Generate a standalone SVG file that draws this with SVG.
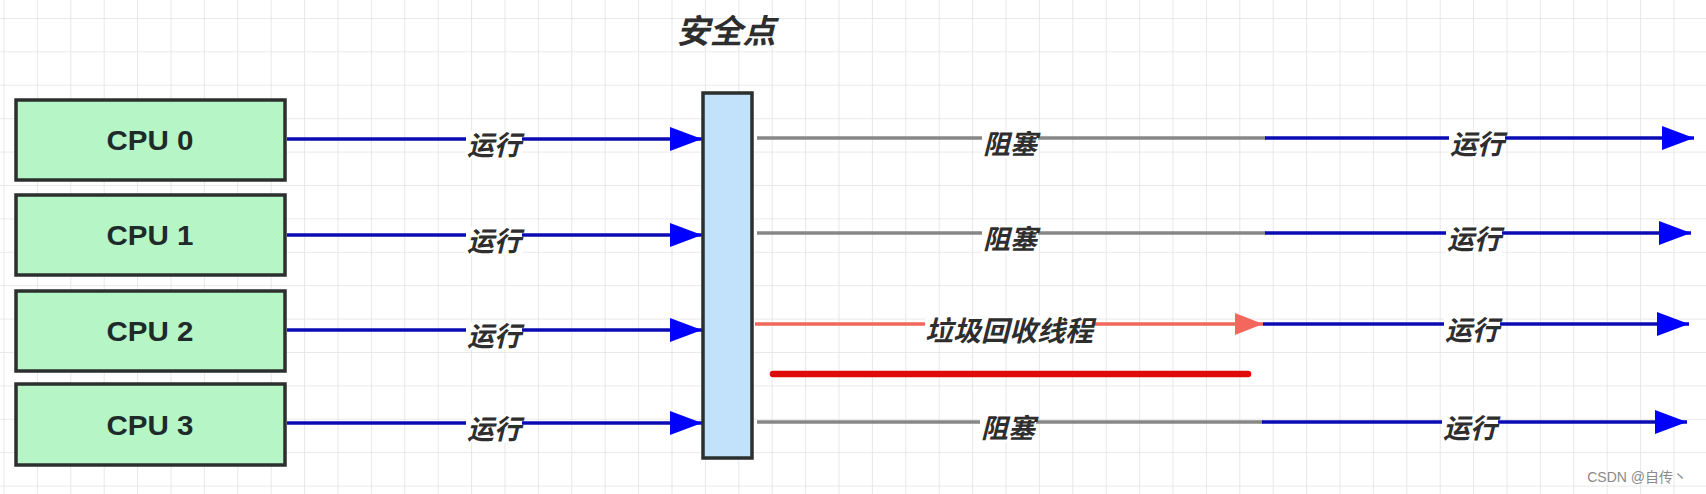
<svg xmlns="http://www.w3.org/2000/svg" width="1706" height="494" viewBox="0 0 1706 494">
<style>
.cpu{fill:#b6f5c6;stroke:#2b2f2e;stroke-width:3.5}
.cput{font-family:"Liberation Sans",Arial,sans-serif;font-weight:bold;font-size:28px;fill:#1e2b2a;text-anchor:middle}
.lbl{font-family:"Noto Sans CJK SC","Noto Sans",sans-serif;font-weight:bold;font-style:italic;font-size:27px;fill:#2e2e2e;text-anchor:middle}
.lbg{fill:#ffffff}
.blue{stroke:#0b0bb4;stroke-width:3.5;fill:none}
.gray{stroke:#878787;stroke-width:3.5;fill:none}
.salmon{stroke:#f3675b;stroke-width:3.5;fill:none}
</style>
<defs>
<pattern id="grid" x="3.5" y="18" width="33.4" height="33.4" patternUnits="userSpaceOnUse">
<path d="M0 0 H33.4 M0 0 V33.4" stroke="#e2e2e2" stroke-width="1.6" fill="none"/>
</pattern>
<marker id="ab" markerUnits="userSpaceOnUse" markerWidth="34" markerHeight="26" refX="32" refY="12" orient="auto" viewBox="0 0 34 26">
<path d="M0 0 L32 12 L0 24 Z" fill="#0000ff"/>
</marker>
<marker id="ar" markerUnits="userSpaceOnUse" markerWidth="30" markerHeight="24" refX="28" refY="11" orient="auto" viewBox="0 0 30 24">
<path d="M0 0 L28 11 L0 22 Z" fill="#f4675c"/>
</marker>
</defs>
<rect width="1706" height="494" fill="#ffffff"/>
<rect width="1706" height="494" fill="url(#grid)"/>

<g id="connectors">
<line class="blue" x1="287" y1="139" x2="702" y2="139" marker-end="url(#ab)"/>
<line class="blue" x1="287" y1="235" x2="702" y2="235" marker-end="url(#ab)"/>
<line class="blue" x1="287" y1="330" x2="702" y2="330" marker-end="url(#ab)"/>
<line class="blue" x1="287" y1="423" x2="702" y2="423" marker-end="url(#ab)"/>

<line class="gray" x1="757" y1="138" x2="1266" y2="138"/>
<line class="gray" x1="757" y1="233" x2="1266" y2="233"/>
<line class="gray" x1="757" y1="422" x2="1263" y2="422"/>
<line class="salmon" x1="755" y1="324" x2="1263" y2="324" marker-end="url(#ar)"/>

<line class="blue" x1="1265" y1="138" x2="1694" y2="138" marker-end="url(#ab)"/>
<line class="blue" x1="1265" y1="233" x2="1691" y2="233" marker-end="url(#ab)"/>
<line class="blue" x1="1263" y1="324" x2="1689" y2="324" marker-end="url(#ab)"/>
<line class="blue" x1="1262" y1="422" x2="1687" y2="422" marker-end="url(#ab)"/>

<line x1="773" y1="374" x2="1248" y2="374" stroke="#e00a0a" stroke-width="6.5" stroke-linecap="round"/>

<g id="labels">
<rect class="lbg" x="466" y="131" width="56" height="28"/><text class="lbl" x="494" y="155">运行</text>
<rect class="lbg" x="466" y="227" width="56" height="28"/><text class="lbl" x="494" y="251">运行</text>
<rect class="lbg" x="466" y="322" width="56" height="28"/><text class="lbl" x="494" y="346">运行</text>
<rect class="lbg" x="466" y="415" width="56" height="28"/><text class="lbl" x="494" y="439">运行</text>

<rect class="lbg" x="982" y="130" width="56" height="28"/><text class="lbl" x="1010" y="154">阻塞</text>
<rect class="lbg" x="982" y="225" width="56" height="28"/><text class="lbl" x="1010" y="249">阻塞</text>
<rect class="lbg" x="980" y="414" width="56" height="28"/><text class="lbl" x="1008" y="438">阻塞</text>
<rect class="lbg" x="925" y="316" width="168" height="28"/><text class="lbl" x="1009" y="341" style="font-size:28px">垃圾回收线程</text>

<rect class="lbg" x="1449" y="130" width="56" height="28"/><text class="lbl" x="1477" y="154">运行</text>
<rect class="lbg" x="1446" y="225" width="56" height="28"/><text class="lbl" x="1474" y="249">运行</text>
<rect class="lbg" x="1444" y="316" width="56" height="28"/><text class="lbl" x="1472" y="340">运行</text>
<rect class="lbg" x="1442" y="414" width="56" height="28"/><text class="lbl" x="1470" y="438">运行</text>
</g>
</g>

<g id="cpu0"><rect class="cpu" x="16" y="100" width="269" height="80"/><text class="cput" x="150" y="150" textLength="87" lengthAdjust="spacingAndGlyphs">CPU 0</text></g>
<g id="cpu1"><rect class="cpu" x="16" y="195" width="269" height="80"/><text class="cput" x="150" y="245" textLength="87" lengthAdjust="spacingAndGlyphs">CPU 1</text></g>
<g id="cpu2"><rect class="cpu" x="16" y="291" width="269" height="80"/><text class="cput" x="150" y="341" textLength="87" lengthAdjust="spacingAndGlyphs">CPU 2</text></g>
<g id="cpu3"><rect class="cpu" x="16" y="384" width="269" height="81"/><text class="cput" x="150" y="435" textLength="87" lengthAdjust="spacingAndGlyphs">CPU 3</text></g>

<g id="safepoint">
<rect x="703" y="93" width="49" height="365" fill="#c2e2fb" stroke="#2b2f2e" stroke-width="3.5"/>
<text class="lbl" x="726" y="43" style="font-size:33px">安全点</text>
</g>

<text x="1687" y="482" text-anchor="end" font-family="'Liberation Sans','Noto Sans CJK SC',sans-serif" font-size="14" fill="#8a8a8a">CSDN @自传丶</text>
</svg>
